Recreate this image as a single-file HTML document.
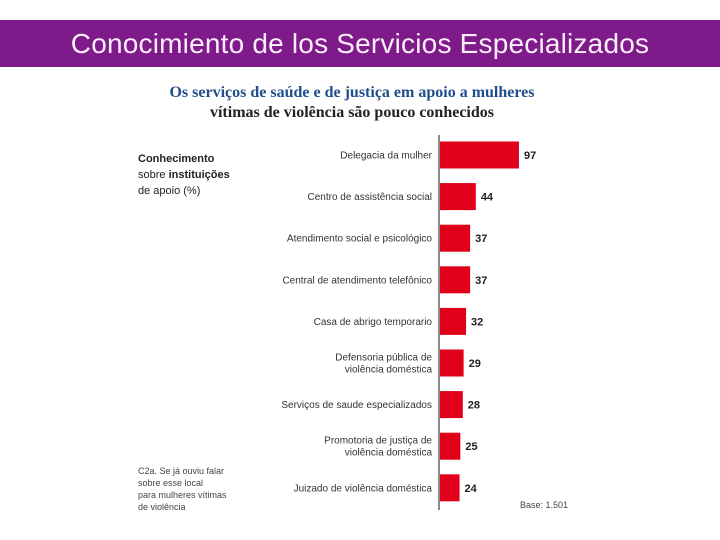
<!DOCTYPE html>
<html><head><meta charset="utf-8"><style>
body{margin:0;width:720px;height:540px;background:#fff;position:relative;overflow:hidden;font-family:"Liberation Sans",sans-serif}
#hdr{position:absolute;left:0;top:20px;width:720px;height:47px;background:#7f1a8a;color:#fbeefa;font-size:28px;text-align:center;line-height:47px;letter-spacing:0.2px}
</style></head><body>
<div id="hdr">Conocimiento de los Servicios Especializados</div>
<svg id="chart" width="720" height="540" style="position:absolute;left:0;top:0">
<text x="352" y="97" text-anchor="middle" font-family="Liberation Serif,serif" font-weight="bold" font-size="16" fill="#1f4e8c">Os serviços de saúde e de justiça em apoio a mulheres</text>
<text x="352" y="117" text-anchor="middle" font-family="Liberation Serif,serif" font-weight="bold" font-size="16" fill="#222">vítimas de violência são pouco conhecidos</text>
<g font-size="11" fill="#222">
<text x="138" y="162" font-weight="bold">Conhecimento</text>
<text x="138" y="178">sobre <tspan font-weight="bold">instituições</tspan></text>
<text x="138" y="194">de apoio (%)</text>
</g>
<g font-size="9" fill="#444">
<text x="138" y="474">C2a. Se já ouviu falar</text>
<text x="138" y="486">sobre esse local</text>
<text x="138" y="498">para mulheres vítimas</text>
<text x="138" y="510">de violência</text>
</g>
<text x="520" y="508" font-size="9" fill="#444">Base: 1.501</text>
<line x1="439" y1="135" x2="439" y2="510" stroke="#666" stroke-width="1.5"/>
<g id="bars"></g>
</svg>
<script>
const categories=[["Delegacia da mulher"],["Centro de assistência social"],["Atendimento social e psicológico"],["Central de atendimento telefônico"],["Casa de abrigo temporario"],["Defensoria pública de","violência doméstica"],["Serviços de saude especializados"],["Promotoria de justiça de","violência doméstica"],["Juizado de violência doméstica"]];
const values=[97,44,37,37,32,29,28,25,24];
const x0=439,pxPer=0.814,y0=155,step=41.6,bh=27;
const xs=v=>x0+v*pxPer, ys=i=>y0+i*step;
const g=document.getElementById('bars');
const NS='http://www.w3.org/2000/svg';
values.forEach((v,i)=>{
 const r=document.createElementNS(NS,'rect');
 r.setAttribute('x',x0+1);r.setAttribute('y',ys(i)-bh/2);
 r.setAttribute('width',xs(v)-x0);r.setAttribute('height',bh);r.setAttribute('fill','#e0001a');
 
 
 g.appendChild(r);
 const t=document.createElementNS(NS,'text');
 t.setAttribute('x',xs(v)+6);t.setAttribute('y',ys(i)+4);
 t.setAttribute('font-size','11');t.setAttribute('font-weight','bold');t.setAttribute('fill','#222');
 t.textContent=v;
 
 
 g.appendChild(t);
 const lines=categories[i];
 lines.forEach((s,j)=>{
  const c=document.createElementNS(NS,'text');
  c.setAttribute('x',432);
  c.setAttribute('y',ys(i)+3.5+(j-(lines.length-1)/2)*12);
  c.setAttribute('text-anchor','end');c.setAttribute('font-size','10');c.setAttribute('fill','#333');
  c.textContent=s;
  
  
  g.appendChild(c);
 });
});
</script>
</body></html>
